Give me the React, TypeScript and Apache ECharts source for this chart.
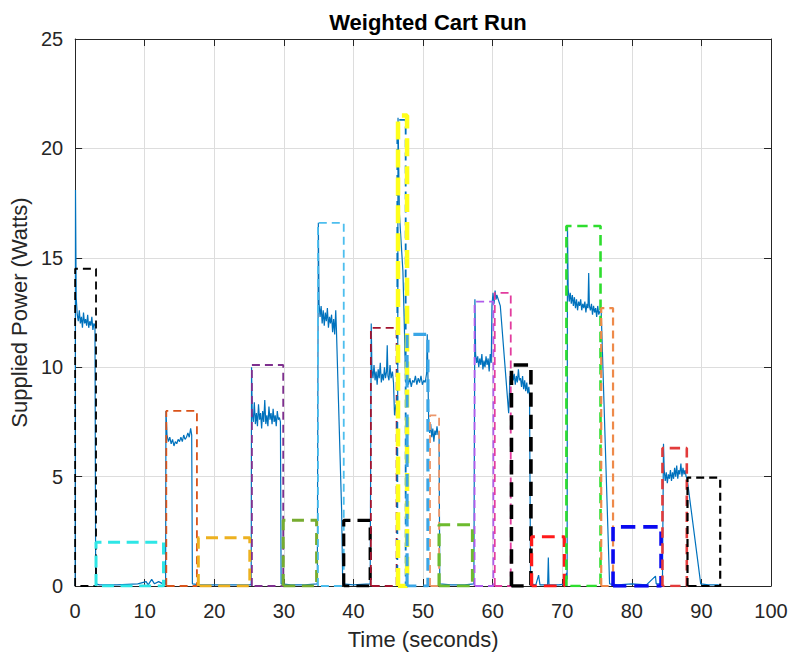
import React, { useEffect, useRef } from "react";
import * as echarts from "echarts";

// ---- Data ----
const xTicks = [0, 10, 20, 30, 40, 50, 60, 70, 80, 90, 100];
const yTicks = [0, 5, 10, 15, 20, 25];

// commanded pulses (dashed rectangles)
const pulseStart = [0, 3.0, 13.1, 17.7, 25.4, 29.9, 34.9, 38.6, 42.5, 46.3, 46.4, 47.7, 51.0, 52.3, 57.4, 60.3, 62.7, 65.6, 70.6, 75.6, 77.3, 84.4, 88.0];
const pulseEnd = [3.0, 12.7, 17.5, 25.1, 29.9, 34.7, 38.6, 42.4, 46.2, 47.5, 47.7, 50.7, 52.3, 57.1, 60.1, 62.6, 65.5, 70.3, 75.5, 77.3, 84.2, 87.9, 92.7];
const pulseLevel = [14.5, 2.0, 8.0, 2.2, 10.1, 3.0, 16.6, 3.0, 11.8, 21.3, 21.5, 11.5, 7.8, 2.8, 13.0, 13.4, 10.1, 2.25, 16.45, 12.7, 2.7, 6.3, 4.95];

// measured supplied power, by segment [time, watts]
const trace0: [number, number][] = [
  [0, 0], [0.05, 18.1], [0.15, 13.2], [0.3, 12.4], [0.45, 12.1], [0.6, 12.6], [0.75, 12.0], [0.9, 12.3], [1.05, 11.8],
  [1.2, 12.5], [1.35, 12.0], [1.5, 12.2], [1.65, 11.9], [1.8, 12.4], [1.95, 11.8], [2.1, 12.1], [2.25, 11.9], [2.4, 12.3],
  [2.55, 11.7], [2.7, 12.0], [2.85, 11.9], [2.95, 0.1],
];
const idle0: [number, number][] = [[3.5, 0.05], [6, 0.05], [9, 0.1], [10.2, 0.2], [10.5, 0.05], [11, 0.3], [11.4, 0.1], [12, 0.2], [12.9, 0.05]];
const trace1: [number, number][] = [
  [13.0, 0.1], [13.05, 8.0], [13.2, 6.9], [13.4, 6.6], [13.6, 6.8], [13.8, 6.5], [14.0, 6.7], [14.2, 6.4], [14.4, 6.6],
  [14.6, 6.5], [14.8, 6.7], [15.0, 6.6], [15.2, 6.8], [15.4, 6.6], [15.6, 6.9], [15.8, 6.7], [16.0, 6.8], [16.2, 7.0],
  [16.4, 6.8], [16.6, 7.2], [16.75, 6.9], [16.85, 0.1],
];
const idle1: [number, number][] = [[18, 0.05], [21, 0.05], [24, 0.05], [25.2, 0.05]];
const trace2: [number, number][] = [
  [25.3, 0.1], [25.35, 10.0], [25.45, 7.9], [25.6, 7.5], [25.75, 8.4], [25.9, 7.4], [26.05, 7.9], [26.2, 7.3], [26.35, 8.3],
  [26.5, 7.6], [26.65, 7.9], [26.8, 7.2], [26.95, 8.0], [27.1, 7.5], [27.25, 8.5], [27.4, 7.4], [27.55, 7.8], [27.7, 7.3],
  [27.85, 8.2], [28.0, 7.6], [28.15, 7.9], [28.3, 7.4], [28.45, 8.1], [28.6, 7.5], [28.75, 7.8], [28.9, 7.3], [29.05, 8.0],
  [29.2, 7.6], [29.35, 7.7], [29.5, 7.5], [29.6, 0.1],
];
const idle2: [number, number][] = [[31, 0.05], [33, 0.05], [34.8, 0.1]];
const trace3: [number, number][] = [
  [34.9, 0.1], [34.95, 16.6], [35.05, 12.9], [35.2, 12.3], [35.35, 12.8], [35.5, 12.0], [35.65, 12.6], [35.8, 11.9],
  [35.95, 12.5], [36.1, 12.1], [36.25, 12.7], [36.4, 11.8], [36.55, 12.3], [36.7, 12.0], [36.85, 12.4], [37.0, 11.6],
  [37.15, 12.2], [37.3, 11.5], [37.45, 12.6], [37.55, 11.7], [38.3, 3.4], [38.45, 0.1],
];
const idle3: [number, number][] = [[40, 0.05], [42.4, 0.1]];
const trace4: [number, number][] = [
  [42.5, 0.1], [42.55, 12.0], [42.65, 9.9], [42.8, 9.5], [42.95, 10.1], [43.1, 9.4], [43.25, 9.8], [43.4, 9.2], [43.55, 9.9],
  [43.7, 9.5], [43.85, 10.2], [44.0, 9.3], [44.15, 9.7], [44.3, 9.4], [44.45, 10.0], [44.6, 9.5], [44.75, 9.8], [44.85, 11.0],
  [44.95, 9.6], [45.1, 9.4], [45.25, 10.1], [45.4, 9.5], [45.6, 9.8], [45.75, 9.3], [45.9, 7.8], [46.1, 8.3], [46.35, 8.1],
  [46.4, 21.4], [46.6, 17.0], [47.1, 14.4], [47.3, 12.0], [47.5, 9.3], [47.7, 9.6], [47.9, 9.2], [48.1, 9.5], [48.3, 9.1],
  [48.5, 9.4], [48.7, 9.3], [48.9, 9.6], [49.1, 9.2], [49.3, 9.5], [49.5, 9.3], [49.7, 9.6], [49.9, 9.2], [50.1, 9.4],
  [50.3, 9.3], [50.5, 9.7], [50.6, 11.5], [50.8, 7.6], [50.95, 7.0], [51.1, 7.4], [51.25, 6.8], [51.4, 7.2], [51.55, 6.6],
  [51.7, 7.1], [51.85, 6.9], [52.0, 7.3], [52.15, 6.9], [52.3, 7.0], [52.4, 0.1],
];
const idle4: [number, number][] = [[54, 0.05], [56, 0.05], [57.3, 0.1]];
const trace5: [number, number][] = [
  [57.4, 0.1], [57.45, 13.1], [57.55, 10.6], [57.7, 10.2], [57.85, 10.5], [58.0, 10.0], [58.15, 10.4], [58.3, 10.1],
  [58.45, 10.6], [58.6, 9.9], [58.75, 10.3], [58.9, 10.0], [59.05, 10.5], [59.2, 10.1], [59.35, 10.4], [59.5, 9.8],
  [59.65, 10.6], [59.8, 10.2], [59.9, 12.8], [60.05, 13.4], [60.2, 12.9], [60.35, 13.5], [60.5, 13.1], [60.6, 13.3],
  [61.1, 12.8], [62.3, 7.9], [62.5, 9.6], [62.65, 9.3], [62.8, 9.8], [62.95, 9.4], [63.1, 9.7], [63.25, 9.2], [63.4, 9.6],
  [63.55, 9.3], [63.7, 9.9], [63.85, 9.4], [64.0, 9.5], [64.15, 9.1], [64.3, 9.6], [64.45, 9.0], [64.6, 9.4], [64.75, 8.9],
  [64.9, 9.3], [65.05, 8.8], [65.2, 9.1], [65.3, 8.7], [65.45, 0.1],
];
const idle5: [number, number][] = [
  [66.2, 0.05], [66.6, 0.5], [66.8, 0.05], [67.9, 0.05], [68.0, 1.3], [68.1, 0.05], [69.5, 0.05], [70.5, 0.1], [70.6, 0.6],
];
const trace6: [number, number][] = [
  [70.7, 0.3], [70.75, 16.5], [70.85, 13.6], [71.0, 13.0], [71.15, 13.4], [71.3, 12.9], [71.45, 13.3], [71.6, 12.8],
  [71.75, 13.2], [71.9, 12.7], [72.05, 13.1], [72.2, 12.6], [72.35, 13.0], [72.5, 12.8], [72.65, 13.1], [72.8, 12.6],
  [72.95, 12.9], [73.1, 12.7], [73.25, 13.0], [73.4, 12.5], [73.55, 12.9], [73.7, 12.7], [73.8, 14.3], [73.9, 12.8],
  [74.05, 12.6], [74.2, 12.9], [74.35, 12.4], [74.5, 12.8], [74.65, 12.5], [74.8, 12.7], [74.95, 12.3], [75.1, 12.8],
  [75.25, 12.4], [75.45, 12.6], [75.6, 12.5], [76.8, 0.1],
];
const idle6: [number, number][] = [[78, 0.05], [80, 0.1], [82.1, 0.05], [83.4, 0.45], [83.5, 0.1], [84.4, 0.1]];
const trace7: [number, number][] = [
  [84.5, 0.1], [84.55, 6.5], [84.65, 5.3], [84.8, 4.8], [84.95, 5.2], [85.1, 4.7], [85.25, 5.1], [85.4, 4.9], [85.55, 5.3],
  [85.7, 4.8], [85.85, 5.2], [86.0, 4.9], [86.15, 5.4], [86.3, 5.0], [86.45, 5.5], [86.6, 4.9], [86.75, 5.3], [86.9, 5.1],
  [87.05, 5.6], [87.2, 5.0], [87.35, 5.4], [87.5, 5.1], [87.65, 5.3], [87.8, 5.0], [87.95, 4.9], [89.9, 0.1],
];
const idle7: [number, number][] = [[91, 0.05], [92.5, 0.05]];

// ---- Styles ----
const pulseStyle = [
  { c: "#000000", w: 1.8 },
  { c: "#2EE6E6", w: 3 },
  { c: "#D95319", w: 1.8 },
  { c: "#EDB120", w: 3 },
  { c: "#7E2F8E", w: 1.8 },
  { c: "#77AC30", w: 3 },
  { c: "#4DBEEE", w: 1.8 },
  { c: "#000000", w: 3.2 },
  { c: "#A2142F", w: 1.8 },
  { c: "#0072BD", w: 1.8 },
  { c: "#FFFF1A", w: 4.5 },
  { c: "#3AA6E6", w: 3.2 },
  { c: "#EC966A", w: 1.8 },
  { c: "#6DBB2E", w: 3.2 },
  { c: "#B05CEB", w: 1.8 },
  { c: "#E23C9E", w: 1.8 },
  { c: "#000000", w: 3.6 },
  { c: "#FF1A1A", w: 3.2 },
  { c: "#2EDD2E", w: 2.6 },
  { c: "#EE8A4A", w: 2.2 },
  { c: "#0A0AF0", w: 3.6 },
  { c: "#E23B3B", w: 2.6 },
  { c: "#000000", w: 2.2 },
];

const TXT = "#262626";
const FONT = "Liberation Sans, Arial, sans-serif";

export default function App() {
  const ref = useRef<HTMLDivElement>(null);
  useEffect(() => {
    if (!ref.current) return;
    const chart = echarts.init(ref.current, undefined, { renderer: "svg" });
    const trace = [
      ...trace0, ...idle0, ...trace1, ...idle1, ...trace2, ...idle2, ...trace3, ...idle3,
      ...trace4, ...idle4, ...trace5, ...idle5, ...trace6, ...idle6, ...trace7, ...idle7,
    ];
    const pulseSeries = pulseStart.map((s, i) => {
      const e = pulseEnd[i];
      const h = pulseLevel[i];
      const st = pulseStyle[i];
      const d = st.w > 2.5 ? [st.w * 4, st.w * 2.2] : [8, 5];
      return {
        type: "line",
        data: [[s, 0], [s, h], [e, h], [e, 0], [s, 0]],
        showSymbol: false,
        silent: true,
        z: 3,
        lineStyle: { color: st.c, width: st.w, type: d },
      };
    });
    const axisCommon = {
      type: "value",
      axisLine: { show: true, onZero: false, lineStyle: { color: TXT, width: 1 } },
      axisTick: { show: true, inside: true, length: 7, lineStyle: { color: TXT } },
    };
    chart.setOption({
      animation: false,
      backgroundColor: "#ffffff",
      title: {
        text: "Weighted Cart Run",
        left: 423,
        textAlign: "center",
        top: 6,
        textStyle: { fontFamily: FONT, fontSize: 22, fontWeight: "bold", color: "#000" },
      },
      grid: { left: 75, right: 22, top: 39, bottom: 72 },
      xAxis: [
        {
          ...axisCommon,
          min: 0, max: 100, interval: 10, position: "bottom",
          name: "Time (seconds)", nameLocation: "middle", nameGap: 42,
          nameTextStyle: { fontFamily: FONT, fontSize: 22, color: TXT },
          axisLabel: { fontFamily: FONT, fontSize: 20, color: TXT, margin: 15 },
          splitLine: { show: true, lineStyle: { color: "#DDDDDD", width: 1 } },
        },
        {
          ...axisCommon,
          min: 0, max: 100, interval: 10, position: "top",
          axisLabel: { show: false },
          splitLine: { show: false },
        },
      ],
      yAxis: [
        {
          ...axisCommon,
          min: 0, max: 25, interval: 5, position: "left",
          name: "Supplied Power (Watts)", nameLocation: "middle", nameGap: 42,
          nameTextStyle: { fontFamily: FONT, fontSize: 22, color: TXT },
          axisLabel: { fontFamily: FONT, fontSize: 20, color: TXT, margin: 12 },
          splitLine: { show: true, lineStyle: { color: "#DDDDDD", width: 1 } },
        },
        {
          ...axisCommon,
          min: 0, max: 25, interval: 5, position: "right",
          axisLabel: { show: false },
          splitLine: { show: false },
        },
      ],
      series: [
        {
          type: "line",
          data: trace,
          showSymbol: false,
          silent: true,
          z: 2,
          lineStyle: { color: "#0072BD", width: 1.2 },
        },
        ...pulseSeries,
      ],
    });
    return () => chart.dispose();
  }, []);
  return <div ref={ref} style={{ position: "fixed", left: 0, top: 0, width: 793, height: 658 }} />;
}
